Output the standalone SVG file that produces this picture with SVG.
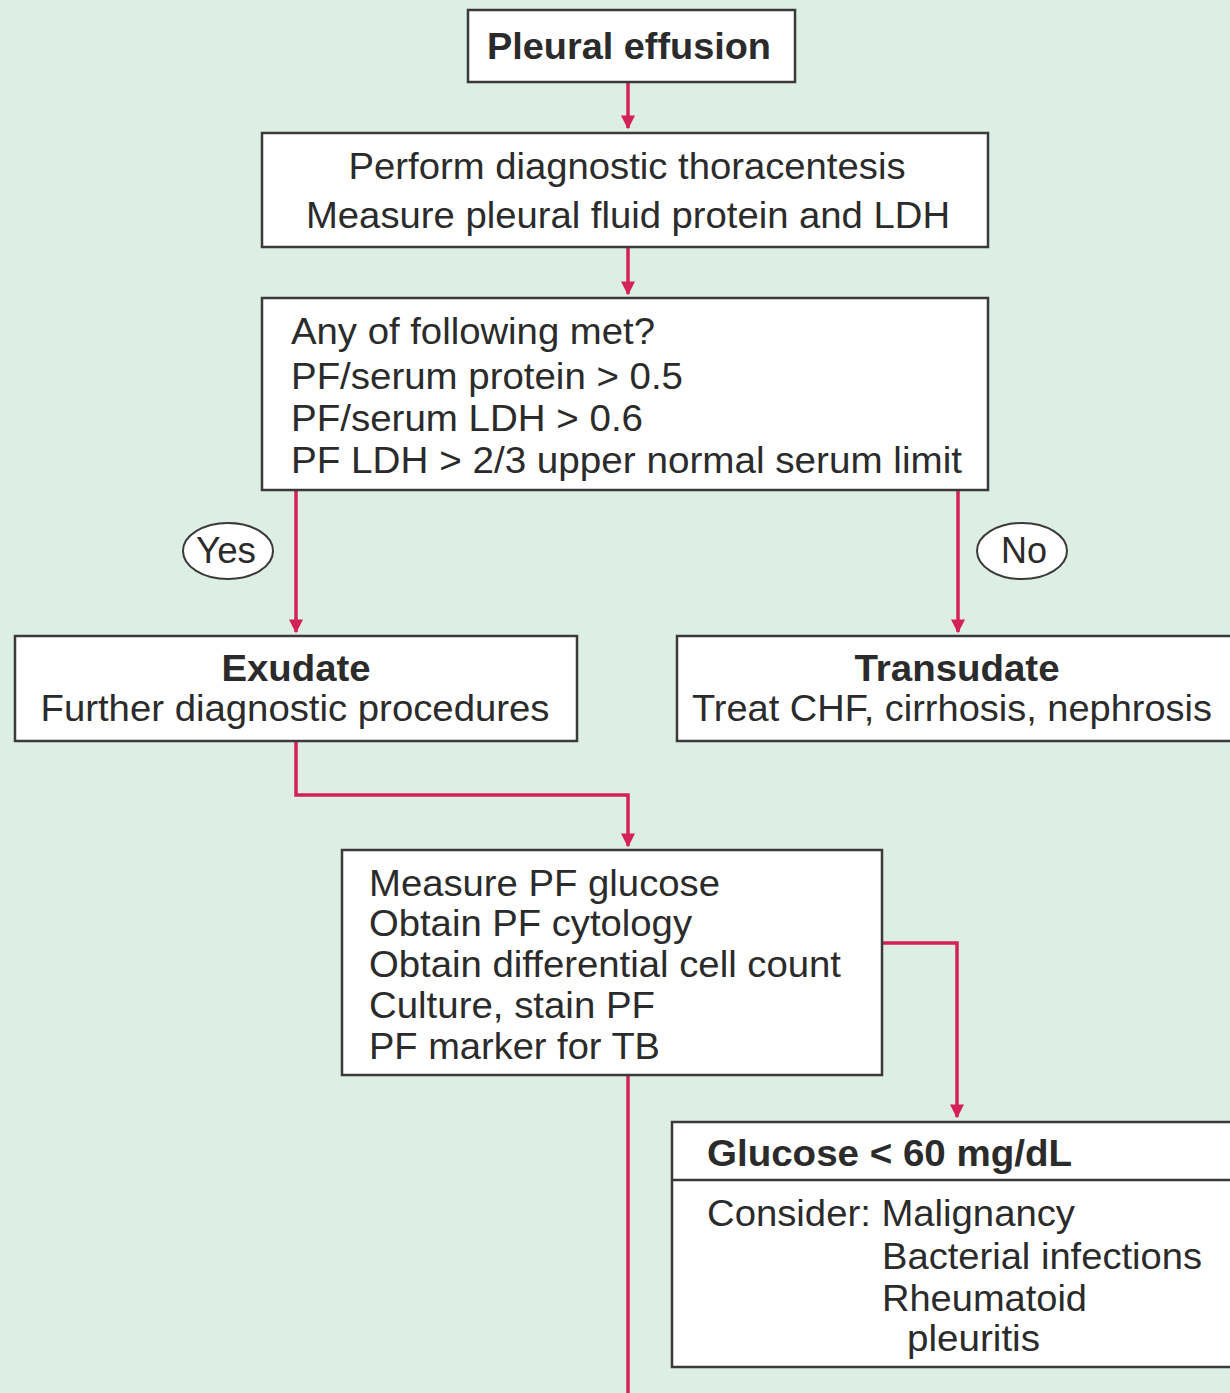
<svg xmlns="http://www.w3.org/2000/svg" width="1230" height="1393" viewBox="0 0 1230 1393">
<style>
.box{fill:#fff;stroke:#3a3a3a;stroke-width:2.5}
.t{font-family:"Liberation Sans",Arial,sans-serif;font-size:36px;fill:#2b2b2b}
.b{font-weight:bold}
.c{text-anchor:middle}
.ln{fill:none;stroke:#d42257;stroke-width:3.5}
</style>
<defs>
<marker id="ah" viewBox="0 0 10 10" refX="9" refY="5" markerWidth="4" markerHeight="5" markerUnits="strokeWidth" orient="auto">
<path d="M0,0 L10,5 L0,10 z" fill="#d42257"/>
</marker>
</defs>
<rect width="1230" height="1393" fill="#ddeee4"/>
<g id="connectors">
<path class="ln" d="M628,82 V128" marker-end="url(#ah)"/>
<path class="ln" d="M628,247 V294" marker-end="url(#ah)"/>
<path class="ln" d="M296,490 V632" marker-end="url(#ah)"/>
<path class="ln" d="M958,490 V632" marker-end="url(#ah)"/>
<path class="ln" d="M296,741 V795 H628 V846" marker-end="url(#ah)"/>
<path class="ln" d="M882,943 H957 V1117" marker-end="url(#ah)"/>
<path class="ln" d="M628,1075 V1393"/>
</g>
<g id="yes"><ellipse cx="228" cy="551" rx="45" ry="28" fill="#fff" stroke="#3a3a3a" stroke-width="2"/><text class="t c" x="226" y="563" textLength="60" lengthAdjust="spacingAndGlyphs">Yes</text></g>
<g id="no"><ellipse cx="1022" cy="551" rx="45" ry="28" fill="#fff" stroke="#3a3a3a" stroke-width="2"/><text class="t c" x="1024" y="563" textLength="46" lengthAdjust="spacingAndGlyphs">No</text></g>
<g id="n1"><rect class="box" x="468" y="10" width="327" height="72"/><text class="t b c" x="629" y="59" textLength="284" lengthAdjust="spacingAndGlyphs">Pleural effusion</text></g>
<g id="n2"><rect class="box" x="262" y="133" width="726" height="114"/><text class="t c" x="627" y="179" textLength="557" lengthAdjust="spacingAndGlyphs">Perform diagnostic thoracentesis</text><text class="t c" x="628" y="228" textLength="644" lengthAdjust="spacingAndGlyphs">Measure pleural fluid protein and LDH</text></g>
<g id="n3"><rect class="box" x="262" y="298" width="726" height="192"/>
<text class="t" x="291" y="344" textLength="364" lengthAdjust="spacingAndGlyphs">Any of following met?</text>
<text class="t" x="291" y="389" textLength="392" lengthAdjust="spacingAndGlyphs">PF/serum protein &gt; 0.5</text>
<text class="t" x="291" y="431" textLength="352" lengthAdjust="spacingAndGlyphs">PF/serum LDH &gt; 0.6</text>
<text class="t" x="291" y="473" textLength="671" lengthAdjust="spacingAndGlyphs">PF LDH &gt; 2/3 upper normal serum limit</text></g>
<g id="n4"><rect class="box" x="15" y="636" width="562" height="105"/><text class="t b c" x="296" y="681" textLength="149" lengthAdjust="spacingAndGlyphs">Exudate</text><text class="t c" x="295" y="721" textLength="509" lengthAdjust="spacingAndGlyphs">Further diagnostic procedures</text></g>
<g id="n5"><rect class="box" x="677" y="636" width="560" height="105"/><text class="t b c" x="957" y="681" textLength="205" lengthAdjust="spacingAndGlyphs">Transudate</text><text class="t c" x="952" y="721" textLength="520" lengthAdjust="spacingAndGlyphs">Treat CHF, cirrhosis, nephrosis</text></g>
<g id="n6"><rect class="box" x="342" y="850" width="540" height="225"/>
<text class="t" x="369" y="896" textLength="351" lengthAdjust="spacingAndGlyphs">Measure PF glucose</text>
<text class="t" x="369" y="936" textLength="323" lengthAdjust="spacingAndGlyphs">Obtain PF cytology</text>
<text class="t" x="369" y="977" textLength="472" lengthAdjust="spacingAndGlyphs">Obtain differential cell count</text>
<text class="t" x="369" y="1018" textLength="286" lengthAdjust="spacingAndGlyphs">Culture, stain PF</text>
<text class="t" x="369" y="1059" textLength="291" lengthAdjust="spacingAndGlyphs">PF marker for TB</text></g>
<g id="n7"><rect class="box" x="672" y="1122" width="570" height="245"/><line x1="672" y1="1180" x2="1232" y2="1180" stroke="#3a3a3a" stroke-width="2.5"/>
<text class="t b" x="707" y="1166" textLength="365" lengthAdjust="spacingAndGlyphs">Glucose &lt; 60 mg/dL</text>
<text class="t" x="707" y="1226" textLength="368" lengthAdjust="spacingAndGlyphs">Consider: Malignancy</text>
<text class="t" x="882" y="1269" textLength="320" lengthAdjust="spacingAndGlyphs">Bacterial infections</text>
<text class="t" x="882" y="1311" textLength="205" lengthAdjust="spacingAndGlyphs">Rheumatoid</text>
<text class="t" x="907" y="1351" textLength="133" lengthAdjust="spacingAndGlyphs">pleuritis</text></g>
</svg>
